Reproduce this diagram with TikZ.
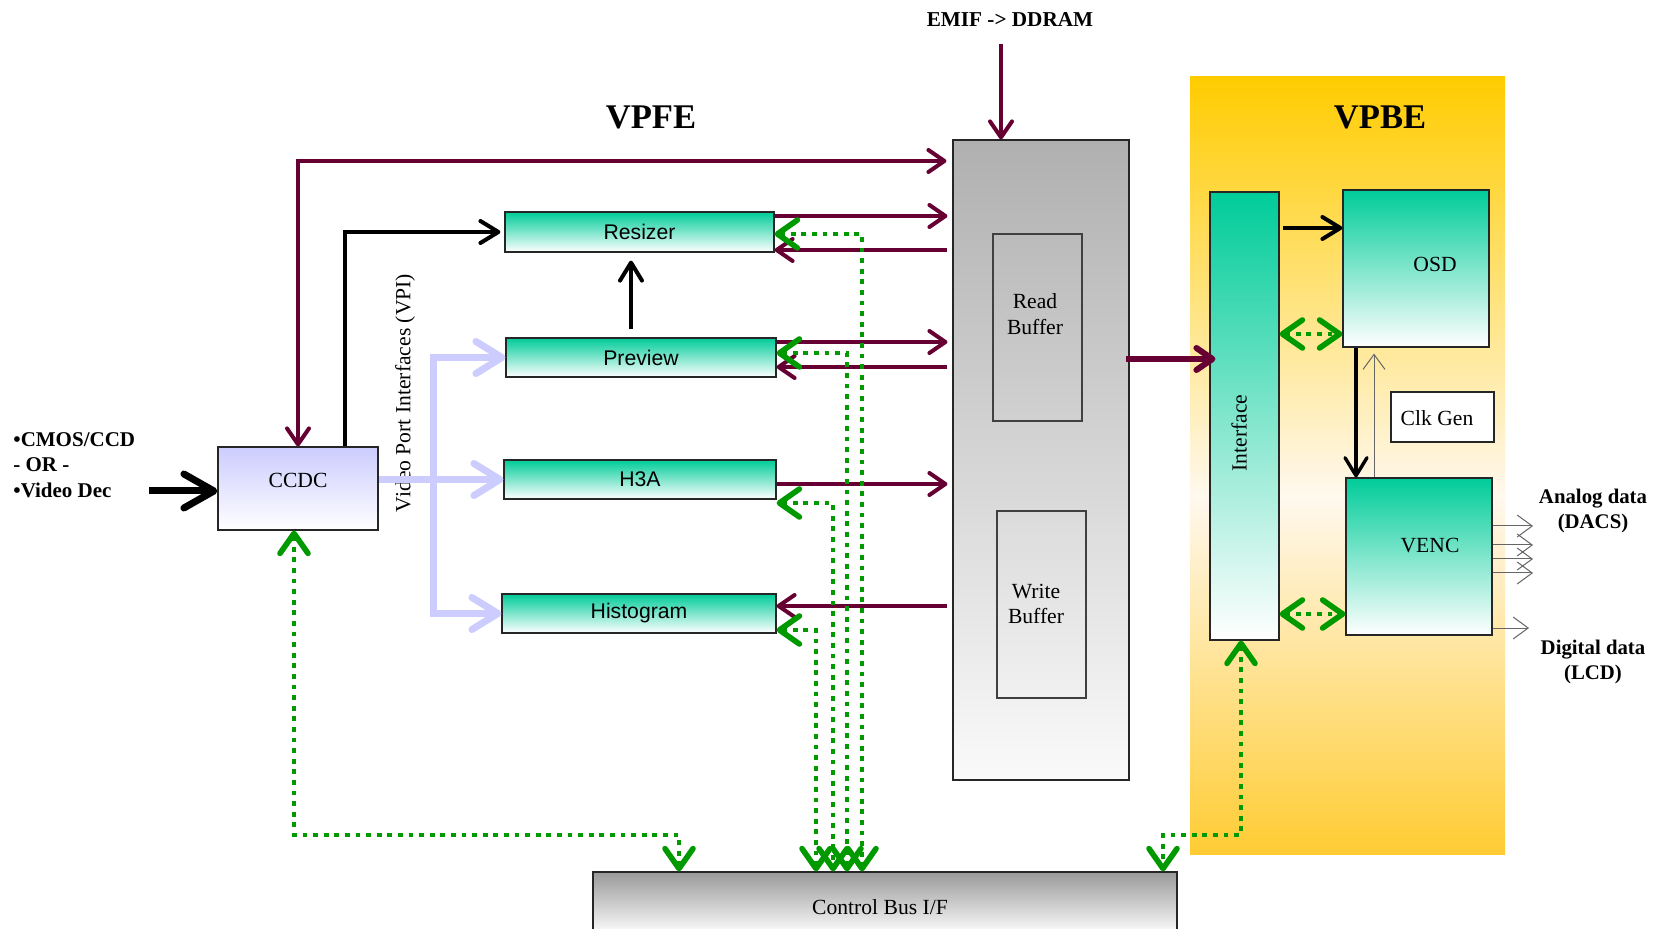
\documentclass[tikz,border=0pt]{standalone}
\usepackage{fontspec}
\setmainfont{Liberation Serif}
\newfontfamily\arialfont{Liberation Sans}
\usetikzlibrary{arrows.meta}
\definecolor{wine}{HTML}{660033}
\definecolor{busgreen}{HTML}{009900}
\definecolor{lilac}{HTML}{CCCCFF}
\definecolor{tealtop}{HTML}{00CC99}
\definecolor{vptop}{HTML}{FFCC00}
\definecolor{vpmid}{HTML}{FFF8EE}
\definecolor{vpbot}{HTML}{FFCC33}
\definecolor{memtop}{HTML}{B0B0B0}
\definecolor{memlow}{HTML}{FAFAFA}
\definecolor{bustop}{HTML}{999999}
\pgfdeclareverticalshading{vpbeshade}{100bp}{color(0bp)=(vpbot); color(25bp)=(vpbot); color(48bp)=(vpmid); color(75bp)=(vptop); color(100bp)=(vptop)}

\tikzset{
  serif/.style={font=\fontsize{10.8}{12.7}\selectfont, align=center, inner sep=0},
  sans/.style={font=\arialfont\fontsize{10.6}{12.7}\selectfont},
  heading/.style={font=\bfseries\fontsize{17.3}{20}\selectfont, inner sep=0},
  boldlbl/.style={font=\bfseries\fontsize{10.5}{12.7}\selectfont, inner sep=0},
  frame/.style={rectangle, draw=black!85, line width=0.6pt, inner sep=0},
  tealbox/.style={frame, top color=tealtop, bottom color=white},
  stagebox/.style={tealbox, sans},
  membox/.style={frame, top color=memtop, bottom color=memlow},
  bufbox/.style={frame, draw=black!75},
  wineline/.style={draw=wine, line width=2pt},
  wineto/.style={wineline, -{Straight Barb[length=8pt,width=11pt,line cap=round,line join=round]}},
  winetwo/.style={wineline, {Straight Barb[length=8pt,width=11pt,line cap=round,line join=round]}-{Straight Barb[length=8pt,width=11pt,line cap=round,line join=round]}},
  blackto/.style={draw=black, line width=2pt, -{Straight Barb[length=9pt,width=11pt,line cap=round,line join=round]}},
  dots/.style={draw=busgreen, line width=2.4pt, dash pattern=on 2.4pt off 2.9pt,
    {Straight Barb[length=10pt,width=14pt,line width=2.8pt,line cap=round,line join=round]}-{Straight Barb[length=10pt,width=14pt,line width=2.8pt,line cap=round,line join=round]}},
  lilacto/.style={draw=lilac, line width=3.5pt, -{Straight Barb[length=13pt,width=16pt,line cap=round,line join=round]}},
  lilactwo/.style={draw=lilac, line width=3.5pt, {Straight Barb[length=13pt,width=16pt,line cap=round,line join=round]}-{Straight Barb[length=13pt,width=16pt,line cap=round,line join=round]}},
  thinto/.style={draw=black!60, line width=0.5pt, -{Straight Barb[length=7.5pt,width=11pt,line width=0.5pt]}},
}

\begin{document}
\begin{tikzpicture}[x=0.5pt,y=-0.5pt]
\useasboundingbox (0,0) rectangle (1658,929);
\clip (0,0) rectangle (1658,929);
\fill[white] (0,0) rectangle (1658,929);

% ---------- back-end panel ----------
\node[rectangle, inner sep=0, shade, shading=vpbeshade, minimum width=157.5pt, minimum height=388.5pt] (vpbe) at (1347.5,465.5) {};
\node[heading] (vpbetitle) at (1380,117) {VPBE};
\node[heading] (vpfetitle) at (651,117) {VPFE};

% ---------- memory side ----------
\node[membox, minimum width=88pt, minimum height=320pt] (mem) at (1041,460) {};
\node[bufbox, minimum width=44.5pt, minimum height=93.5pt] (rbuf) at (1037.5,327.5) {};
\node[serif] (rbuftxt) at (1035,314) {Read\\Buffer};
\node[bufbox, minimum width=44.5pt, minimum height=93.5pt] (wbuf) at (1041.5,604.5) {};
\node[serif] (wbuftxt) at (1036,604) {Write\\Buffer};
\node[boldlbl, font=\bfseries\fontsize{10.6}{12.7}\selectfont] (emif) at (1010,20) {EMIF -> DDRAM};

% ---------- front-end blocks ----------
\node[frame, top color=lilac, bottom color=white, minimum width=80pt, minimum height=41.5pt] (ccdc) at (298,488.5) {};
\node[serif] (ccdctxt) at (298,480) {CCDC};
\node[stagebox, minimum width=134.5pt, minimum height=20pt] (resizer) at (639.5,232) {Resizer};
\node[stagebox, minimum width=135pt, minimum height=19.5pt] (preview) at (641,357.5) {Preview};
\node[stagebox, minimum width=136pt, minimum height=19.5pt] (h3a) at (640,479.5) {H3A};
\node[stagebox, minimum width=137pt, minimum height=19.5pt] (hist) at (639,613.5) {Histogram};

\node[boldlbl, align=left, anchor=west] (src) at (13,465) {•CMOS/CCD\\- OR -\\•Video Dec};
\node[serif, rotate=90] (vpi) at (405,393) {Video Port Interfaces (VPI)};

% ---------- back-end blocks ----------
\node[tealbox, minimum width=34.5pt, minimum height=224pt] (iface) at (1244.5,416) {};
\node[serif, rotate=90] (ifacetxt) at (1239,433) {Interface};
\node[tealbox, minimum width=73pt, minimum height=78.5pt] (osd) at (1416,268.5) {};
\node[serif] (osdtxt) at (1435,264) {OSD};
\node[frame, fill=white, minimum width=51.5pt, minimum height=25pt] (clk) at (1442.5,417) {};
\node[serif] (clktxt) at (1437,418) {Clk Gen};
\node[tealbox, minimum width=73pt, minimum height=78.5pt] (venc) at (1419,556.5) {};
\node[serif] (venctxt) at (1430,546) {VENC};

\node[boldlbl, align=center, font=\bfseries\fontsize{10.4}{12.5}\selectfont] (analog) at (1593,511) {Analog data\\(DACS)};
\node[boldlbl, align=center, font=\bfseries\fontsize{10.4}{12.5}\selectfont] (digital) at (1593,662) {Digital data\\(LCD)};

% ---------- control bus ----------
\node[frame, top color=bustop, bottom color=white, minimum width=292pt, minimum height=31.5pt] (bus) at (885,903.5) {};
\node[serif] (bustxt) at (880,907) {Control Bus I/F};

% ---------- reference rows and columns ----------
\coordinate (toprow) at (0,161);
\coordinate (r1) at (0,216);  \coordinate (r2) at (0,250);  \coordinate (g1) at (0,234);
\coordinate (r3) at (0,342);  \coordinate (r4) at (0,367);  \coordinate (g2) at (0,353);
\coordinate (r5) at (0,484);  \coordinate (g3) at (0,503);
\coordinate (r6) at (0,606);  \coordinate (g4) at (0,630);
\coordinate (v1) at (862,0);  \coordinate (v2) at (847,0);
\coordinate (v3) at (833,0);  \coordinate (v4) at (816,0);
\coordinate (gb) at (0,835);
\coordinate (gx0) at (294,0); \coordinate (gx3) at (1241,0);
\coordinate (gx1) at (679,0); \coordinate (gx2) at (1163,0);
\coordinate (vx) at (433,0);
\coordinate (pr) at (631,0);
\coordinate (emifin) at (1001,44);
\coordinate (srcin) at (149,491);
\coordinate (m1) at (0,359);
\coordinate (o1) at (0,228);
\coordinate (o2) at (0,334);
\coordinate (o3) at (0,614);
\coordinate (k1) at (1356,0);
\coordinate (k2) at (1374,0);
\coordinate (a1) at (1533,526); \coordinate (a2) at (1533,545);
\coordinate (a3) at (1533,559); \coordinate (a4) at (1533,573);
\coordinate (d1) at (1529,628);

% ---------- memory traffic ----------
\draw[wineto] (emifin) -- (emifin |- mem.north);
\draw[winetwo, shorten >=3pt] (ccdc.north) |- (mem.west |- toprow);
\draw[wineto, shorten >=2.5pt] (resizer.east |- r1) -- (mem.west |- r1);
\draw[wineto, shorten <=2.5pt] (mem.west |- r2) -- (resizer.east |- r2);
\draw[wineto, shorten >=2.5pt] (preview.east |- r3) -- (mem.west |- r3);
\draw[wineto, shorten <=2.5pt] (mem.west |- r4) -- (preview.east |- r4);
\draw[wineto, shorten >=2.5pt] (h3a.east |- r5) -- (mem.west |- r5);
\draw[wineto, shorten <=2.5pt] (mem.west |- r6) -- (hist.east |- r6);
\draw[wineto, line width=3pt, shorten <=-2pt, shorten >=-3pt] (mem.east |- m1) -- (iface.west |- m1);

% ---------- data path ----------
\draw[draw=black, line width=3.5pt, -{Straight Barb[length=15pt,width=17pt,line cap=round,line join=round]}] (srcin) -- (ccdc.west |- srcin);
\draw[blackto, shorten >=2pt] ([xshift=23.5pt]ccdc.north) |- (resizer.west);
\draw[blackto, shorten <=4pt, shorten >=4pt] (preview.north -| pr) -- (resizer.south -| pr);
\draw[lilacto] (ccdc.east |- h3a.west) -- (h3a.west);
\draw[lilactwo] (preview.west) -| (vx |- hist.west) -- (hist.west);

% ---------- back end ----------
\draw[blackto, shorten <=1.5pt] (iface.east |- o1) -- (osd.west |- o1);
\draw[blackto, line width=1.7pt] (osd.south -| k1) -- (venc.north -| k1);
\draw[thinto, shorten >=3pt] (venc.north -| k2) -- (osd.south -| k2);
\draw[dots] (iface.east |- o2) -- (osd.west |- o2);
\draw[dots] (iface.east |- o3) -- (venc.west |- o3);
\foreach \p in {a1,a2,a3,a4,d1} \draw[thinto] (venc.east |- \p) -- (\p);

% ---------- control bus links ----------
\draw[dots] (resizer.east |- g1) -| (bus.north -| v1);
\draw[dots] (preview.east |- g2) -| (bus.north -| v2);
\draw[dots] (h3a.east |- g3) -| (bus.north -| v3);
\draw[dots] (hist.east |- g4) -| (bus.north -| v4);
\draw[dots] (ccdc.south -| gx0) |- (gx1 |- gb) -- (bus.north -| gx1);
\draw[dots] (iface.south -| gx3) |- (gx2 |- gb) -- (bus.north -| gx2);
\end{tikzpicture}
\end{document}
